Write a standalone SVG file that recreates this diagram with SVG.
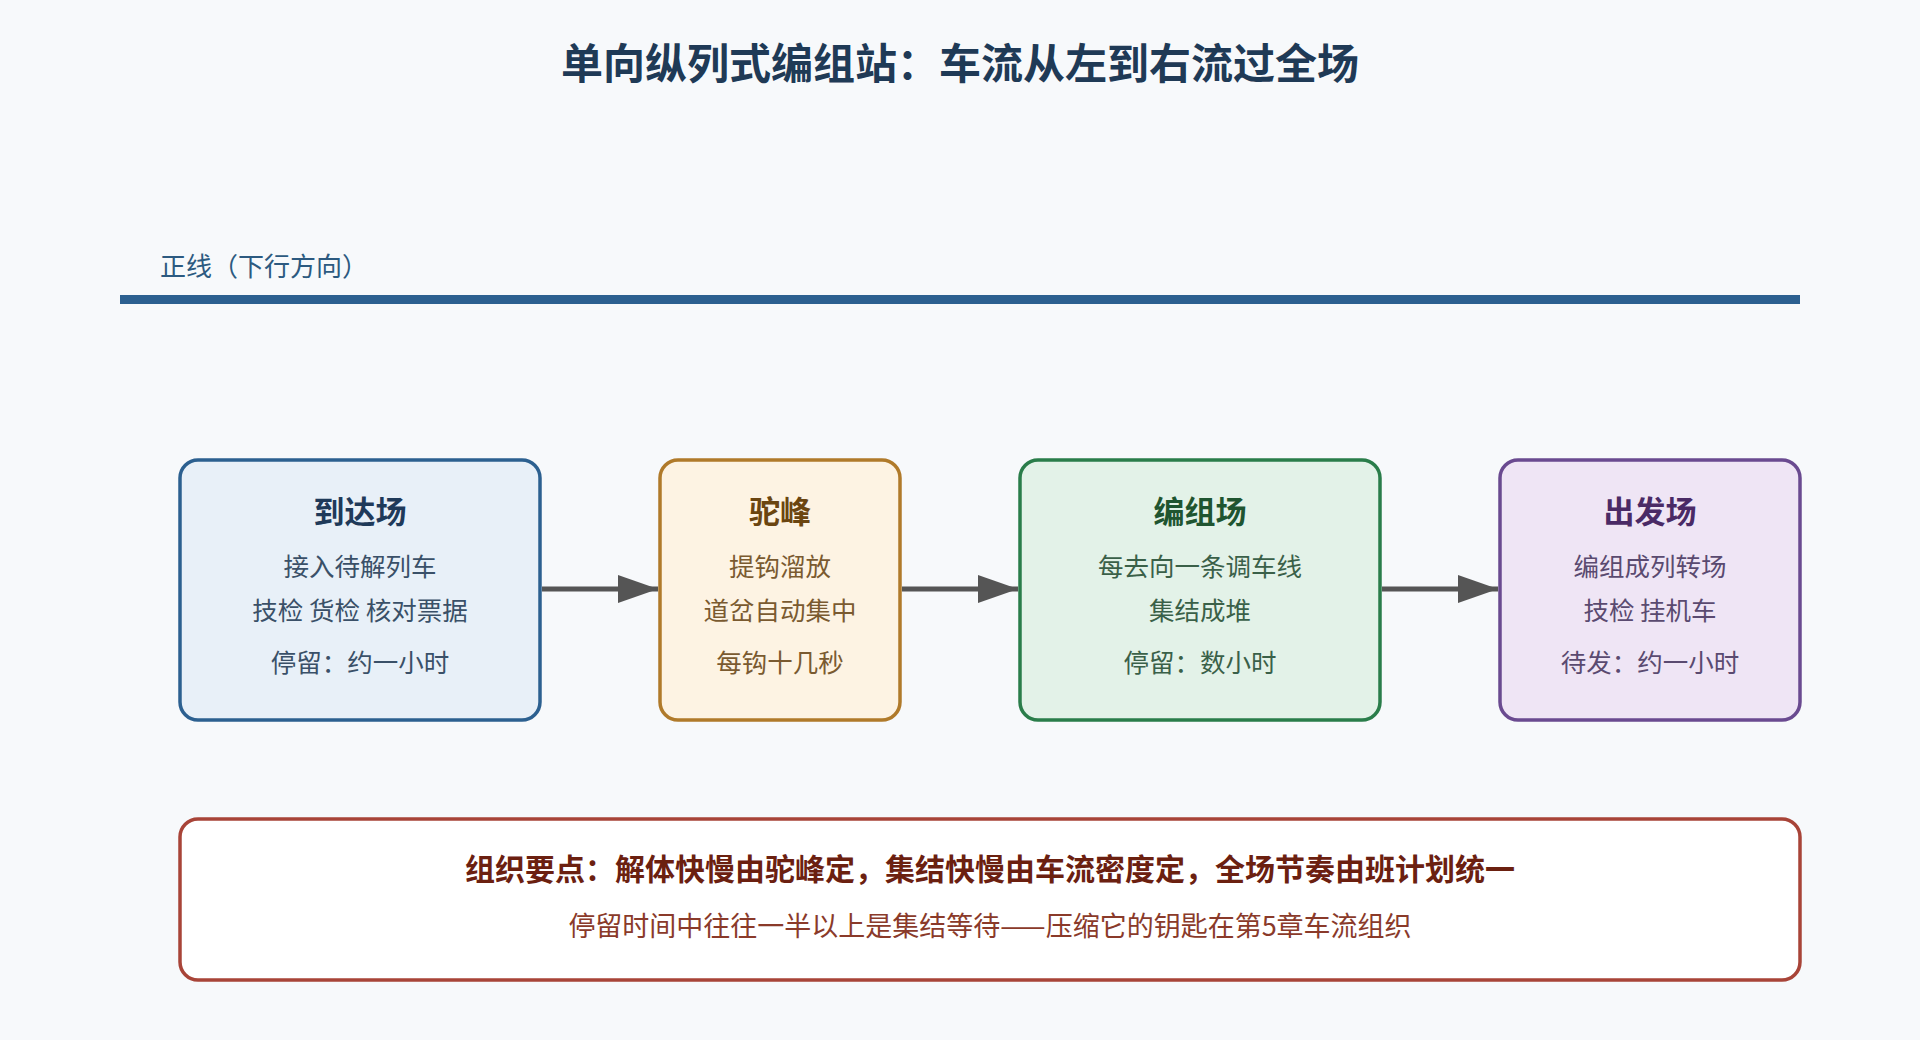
<svg xmlns="http://www.w3.org/2000/svg" width="1920" height="1040" viewBox="0 0 1920 1040">
<defs>
<style>
text{font-family:"Noto Sans CJK SC","Noto Sans",sans-serif;text-anchor:middle}
.t{font-size:31px;font-weight:bold}
.s{font-size:25.5px}
.c{fill:none;stroke:#555;stroke-width:5}
</style>
<marker id="ah" markerWidth="40" markerHeight="28" refX="40" refY="14" orient="auto" markerUnits="userSpaceOnUse" viewBox="0 0 40 28"><path d="M0,0 L40,14 L0,28 Z" fill="#555"/></marker>
</defs>
<rect width="1920" height="1040" fill="#f7f9fb"/>
<text x="960" y="79" font-size="42" font-weight="bold" fill="#1f3a56">单向纵列式编组站：车流从左到右流过全场</text>
<g id="mainline">
<text x="160" y="276" font-size="26" fill="#2c5a80" style="text-anchor:start">正线（下行方向）</text>
<rect x="120" y="295" width="1680" height="9" fill="#2c6090"/>
</g>
<g id="connectors">
<line class="c" x1="542" y1="589" x2="658" y2="589" marker-end="url(#ah)"/>
<line class="c" x1="902" y1="589" x2="1018" y2="589" marker-end="url(#ah)"/>
<line class="c" x1="1382" y1="589" x2="1498" y2="589" marker-end="url(#ah)"/>
</g>
<g id="arrival">
<rect x="180" y="460" width="360" height="260" rx="18" fill="#e8f0f8" stroke="#2c6090" stroke-width="3.5"/>
<text class="t" x="360" y="523" fill="#1f3a5a">到达场</text>
<text class="s" x="360" y="576" fill="#3a5068">接入待解列车</text>
<text class="s" x="360" y="620" fill="#3a5068">技检 货检 核对票据</text>
<text class="s" x="360" y="672" fill="#3a5068">停留：约一小时</text>
</g>
<g id="hump">
<rect x="660" y="460" width="240" height="260" rx="18" fill="#fdf3e3" stroke="#b07a2a" stroke-width="3.5"/>
<text class="t" x="780" y="523" fill="#6b4510">驼峰</text>
<text class="s" x="780" y="576" fill="#7a5a30">提钩溜放</text>
<text class="s" x="780" y="620" fill="#7a5a30">道岔自动集中</text>
<text class="s" x="780" y="672" fill="#7a5a30">每钩十几秒</text>
</g>
<g id="classification">
<rect x="1020" y="460" width="360" height="260" rx="18" fill="#e3f2e8" stroke="#2a7d4a" stroke-width="3.5"/>
<text class="t" x="1200" y="523" fill="#1f5530">编组场</text>
<text class="s" x="1200" y="576" fill="#3a6048">每去向一条调车线</text>
<text class="s" x="1200" y="620" fill="#3a6048">集结成堆</text>
<text class="s" x="1200" y="672" fill="#3a6048">停留：数小时</text>
</g>
<g id="departure">
<rect x="1500" y="460" width="300" height="260" rx="18" fill="#efe5f5" stroke="#6a4a90" stroke-width="3.5"/>
<text class="t" x="1650" y="523" fill="#4a2a66">出发场</text>
<text class="s" x="1650" y="576" fill="#5a4a70">编组成列转场</text>
<text class="s" x="1650" y="620" fill="#5a4a70">技检 挂机车</text>
<text class="s" x="1650" y="672" fill="#5a4a70">待发：约一小时</text>
</g>
<g id="note">
<rect x="180" y="819" width="1620" height="161" rx="18" fill="#ffffff" stroke="#a84438" stroke-width="3.5"/>
<text x="990" y="880" font-size="30" font-weight="bold" fill="#6b2010">组织要点：解体快慢由驼峰定，集结快慢由车流密度定，全场节奏由班计划统一</text>
<text x="990" y="936" font-size="27" fill="#8a3a2a">停留时间中往往一半以上是集结等待——压缩它的钥匙在第5章车流组织</text>
</g>
</svg>
